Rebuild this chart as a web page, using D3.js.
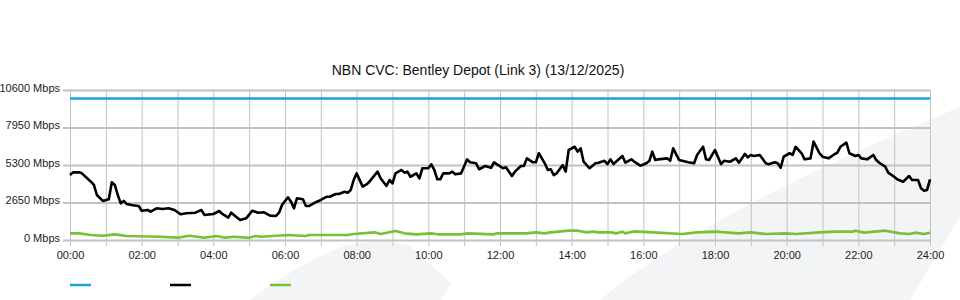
<!DOCTYPE html>
<html>
<head>
<meta charset="utf-8">
<script src="https://cdn.jsdelivr.net/npm/d3@7"></script>
<style>
  html, body { margin: 0; padding: 0; background: #ffffff; }
  svg { display: block; font-family: "Liberation Sans", Arial, sans-serif; }
</style>
</head>
<body>
<svg id="chart" width="960" height="300"></svg>
<script>
// ---- data ----
const chartTitle = "NBN CVC: Bentley Depot (Link 3) (13/12/2025)";
const yTicks = [0, 2650, 5300, 7950, 10600];
const xTickLabels = ["00:00","02:00","04:00","06:00","08:00","10:00","12:00","14:00","16:00","18:00","20:00","22:00","24:00"];
const capacityMbps = 10000;

// traffic (minutes after midnight, Mbps)
const trafficMinutes = [0,5,15,20,35,40,45,55,65,70,75,80,85,90,95,105,115,120,130,135,145,155,165,175,185,195,210,220,225,240,250,255,265,270,280,285,295,305,315,325,335,345,350,355,365,370,375,380,390,395,400,410,420,430,435,445,450,460,465,470,475,480,490,495,500,515,520,530,535,540,545,555,560,565,570,580,585,590,600,605,610,615,620,625,635,640,645,655,665,670,680,685,695,705,710,715,725,730,740,745,755,760,765,775,780,785,795,800,805,810,815,825,830,835,845,850,855,860,870,880,885,895,900,905,910,925,930,940,945,955,965,970,975,980,985,1000,1005,1010,1020,1025,1035,1045,1050,1060,1065,1070,1080,1090,1095,1105,1115,1120,1130,1135,1140,1145,1155,1165,1170,1180,1185,1190,1195,1205,1210,1215,1225,1230,1240,1245,1255,1260,1270,1280,1285,1290,1300,1305,1315,1320,1325,1335,1345,1350,1355,1365,1370,1380,1385,1395,1405,1410,1420,1425,1430,1435,1440];
const trafficMbps = [4590,4780,4780,4710,4120,3890,3180,2760,2880,4080,3890,3180,2590,2760,2540,2450,2400,2070,2120,2000,2240,2190,2240,2120,1820,1890,1930,2120,1770,1840,2050,1840,1580,1930,1580,1410,1530,2070,1930,1960,1720,1700,1930,2470,3020,2710,2240,2950,2880,2400,2400,2640,2830,3060,3060,3250,3250,3410,3340,3530,4240,4710,3770,3890,4050,4830,4360,3820,4240,4010,4710,4950,4760,4830,4470,4710,4360,5070,5070,5350,4950,4290,4290,4710,4710,4830,4640,4710,5700,5490,5420,5000,5230,5100,5490,5350,5070,5140,4520,4830,5230,5230,5770,5490,5490,6130,5420,4950,5000,4590,4710,5300,4830,6360,6590,6240,6480,5530,5070,5420,5460,5600,5370,5700,5370,5940,5460,5700,5530,5250,5420,5580,6240,5650,5700,5770,5600,6480,5650,5600,5490,5420,6010,6590,5700,5650,6360,5370,5600,5530,5770,5460,6080,5840,6010,5940,6010,5420,5350,5490,5420,5110,5890,6130,6010,6590,6130,5700,5770,6950,6130,5890,5770,6060,6170,6590,6880,6130,5940,6010,5770,5700,6010,5650,5460,5180,4760,4470,4290,4120,4520,4240,4240,3650,3480,3530,4290];

// lower series (minutes after midnight, Mbps)
const lowMinutes = [0,15,35,55,75,95,150,180,200,225,245,260,275,300,310,320,365,395,400,465,475,510,520,545,560,580,605,615,655,665,710,715,765,780,795,805,835,850,865,875,885,905,915,925,930,945,975,1025,1050,1080,1120,1140,1165,1200,1215,1255,1280,1310,1315,1330,1365,1390,1405,1415,1430,1440];
const lowMbps = [470,470,350,300,400,280,235,165,300,165,280,165,235,150,280,235,350,280,350,350,420,540,420,640,470,400,470,400,400,470,400,470,470,540,470,540,660,660,540,590,540,540,470,590,470,610,540,420,540,590,470,540,420,470,420,540,590,590,660,520,660,470,420,520,420,520];

const legendColors = ["#1a9fe0", "#000000", "#79bf38"];

// ---- drawing ----
const svg = d3.select("#chart");
const W = 960, H = 300;
const m = { left: 70, right: 30, top: 90, bottom: 60 };

const x = d3.scaleLinear().domain([0, 1440]).range([m.left, W - m.right]);
const y = d3.scaleLinear().domain([0, 10600]).range([H - m.bottom, m.top]);

// decorative watermark shapes
svg.append("path")
  .attr("d", "M250,300 Q300,262 345,246 Q378,237 410,246 L451,283 L441,300 Z")
  .attr("fill", "#f3f4f6");
svg.append("path")
  .attr("d", "M600,300 Q700,215 960,107 L960,217 L910,300 Z")
  .attr("fill", "#f3f4f6");

// title
svg.append("text")
  .attr("x", 478).attr("y", 75)
  .attr("text-anchor", "middle")
  .attr("font-size", 14)
  .attr("fill", "#111")
  .text(chartTitle);

// x axis with full-height hourly grid
const hours = d3.range(0, 25).map(h => h * 60);
const xAxis = d3.axisBottom(x)
  .tickValues(hours)
  .tickSizeInner(-(y(0) - y(10600) + 6))
  .tickSizeOuter(0)
  .tickPadding(5)
  .tickFormat(d => (d / 60) % 2 === 0 ? xTickLabels[d / 120] : "");
const gx = svg.append("g")
  .attr("transform", `translate(0,${y(0) + 6})`)
  .call(xAxis);
gx.select(".domain").remove();
gx.selectAll(".tick line").attr("stroke", "#c2c2c2").attr("stroke-width", 1);
gx.selectAll(".tick text").attr("font-size", 11).attr("fill", "#222")
  .attr("font-family", "Liberation Sans, Arial, sans-serif");

// y axis with grid
const yAxis = d3.axisLeft(y)
  .tickValues(yTicks)
  .tickSizeInner(-(x(1440) - x(0) + 7))
  .tickSizeOuter(0)
  .tickPadding(3)
  .tickFormat(d => d + " Mbps");
const gy = svg.append("g")
  .attr("transform", `translate(${x(0) - 7},0)`)
  .call(yAxis);
gy.select(".domain").remove();
gy.selectAll(".tick line").attr("stroke", "#c2c2c2").attr("stroke-width", 2);
gy.selectAll(".tick text").attr("font-size", 11).attr("fill", "#222")
  .attr("dy", "0.12em")
  .attr("font-family", "Liberation Sans, Arial, sans-serif");

// series
const line = d3.line().x(d => x(d[0])).y(d => y(d[1]));

svg.append("path")
  .datum([[0, capacityMbps], [1440, capacityMbps]])
  .attr("d", line).attr("fill", "none")
  .attr("stroke", legendColors[0]).attr("stroke-width", 2.5);

svg.append("path")
  .datum(lowMinutes.map((t, i) => [t, lowMbps[i]]))
  .attr("d", line).attr("fill", "none")
  .attr("stroke", legendColors[2]).attr("stroke-width", 2.6)
  .attr("stroke-linejoin", "round");

svg.append("path")
  .datum(trafficMinutes.map((t, i) => [t, trafficMbps[i]]))
  .attr("d", line).attr("fill", "none")
  .attr("stroke", legendColors[1]).attr("stroke-width", 2.6)
  .attr("stroke-linejoin", "round");

// legend swatches (no labels in the original)
svg.selectAll(".legend")
  .data(legendColors)
  .join("line")
  .attr("class", "legend")
  .attr("x1", (d, i) => 70 + i * 100)
  .attr("x2", (d, i) => 91 + i * 100)
  .attr("y1", 285).attr("y2", 285)
  .attr("stroke", d => d).attr("stroke-width", 2.5);
</script>
</body>
</html>
